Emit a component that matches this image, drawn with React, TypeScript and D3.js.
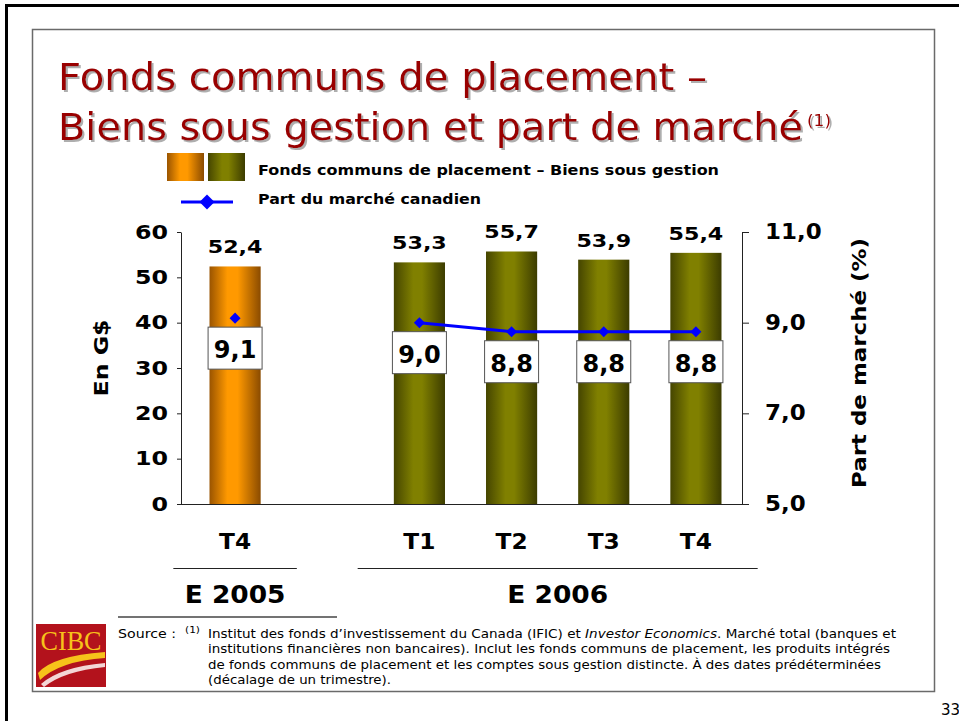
import React, { useEffect, useRef } from 'react';
import * as d3 from 'd3';

const quarters = ['T4', 'T1', 'T2', 'T3', 'T4'];
const years = ['E 2005', 'E 2006', 'E 2006', 'E 2006', 'E 2006'];
const assets = [52.4, 53.3, 55.7, 53.9, 55.4];
const marketShare = [9.1, 9.0, 8.8, 8.8, 8.8];
const assetTicks = [0, 10, 20, 30, 40, 50, 60];
const shareTicks = [5, 7, 9, 11];
const yearGroups = ['E 2005', 'E 2006'];

const titleLines = ['Fonds communs de placement –', 'Biens sous gestion et part de marché'];
const legendLabels = ['Fonds communs de placement – Biens sous gestion', 'Part du marché canadien'];
const footnoteLines = [
  'Institut des fonds d’investissement du Canada (IFIC) et Investor Economics. Marché total (banques et',
  'institutions financières non bancaires). Inclut les fonds communs de placement, les produits intégrés',
  'de fonds communs de placement et les comptes sous gestion distincte. À des dates prédéterminées',
  '(décalage de un trimestre).',
];
const italicPart = 'Investor Economics';

const W = 959;
const H = 721;
const FONT = '"DejaVu Sans", Verdana, sans-serif';

const App = () => {
  const ref = useRef(null);

  useEffect(() => {
    if (!ref.current) return;
    const svg = d3.select(ref.current);
    svg.selectAll('*').remove();

    const locale = d3.formatLocale({ decimal: ',', thousands: ' ', grouping: [3], currency: ['', ' $'] });
    const fmt = locale.format('.1f');

    const defs = svg.append('defs');
    const gradient = (id: string, stops: [number, string][]) => {
      const g = defs.append('linearGradient').attr('id', id)
        .attr('x1', 0).attr('x2', 1).attr('y1', 0).attr('y2', 0);
      stops.forEach(([o, c]) => g.append('stop').attr('offset', o).attr('stop-color', c));
    };
    gradient('orangeBar', [[0, '#9a5400'], [0.35, '#ff9900'], [0.55, '#ff9900'], [1, '#8a4b00']]);
    gradient('oliveBar', [[0, '#454500'], [0.38, '#808000'], [0.55, '#808000'], [1, '#3c3c00']]);
    const barFill = (y: string) => (y === 'E 2005' ? 'url(#orangeBar)' : 'url(#oliveBar)');

    // soft grey shadow behind the title
    defs.append('filter').attr('id', 'titleShadow')
      .attr('x', '-5%').attr('y', '-20%').attr('width', '110%').attr('height', '140%')
      .append('feDropShadow')
      .attr('dx', 2).attr('dy', 2).attr('stdDeviation', 0.6)
      .attr('flood-color', '#9a9a9a').attr('flood-opacity', 0.8);

    svg.append('rect').attr('width', W).attr('height', H).attr('fill', '#fff');

    // slide frames
    svg.append('path').attr('d', 'M6.5,721V5.5H959')
      .attr('fill', 'none').attr('stroke', '#000').attr('stroke-width', 3);
    svg.append('rect').attr('x', 32.5).attr('y', 29.5).attr('width', 902).attr('height', 662)
      .attr('fill', 'none').attr('stroke', '#6a6a6a').attr('stroke-width', 1.5);

    // title
    const titleY = [90, 140];
    const titleLen = [649, 745];
    const title = svg.append('g').attr('filter', 'url(#titleShadow)').attr('fill', '#990000');
    titleLines.forEach((t, i) => {
      title.append('text')
        .attr('x', 58).attr('y', titleY[i])
        .attr('font-family', FONT).attr('font-size', 37)
        .attr('textLength', titleLen[i]).attr('lengthAdjust', 'spacingAndGlyphs')
        .text(t);
    });
    title.append('text')
      .attr('x', 807).attr('y', 126)
      .attr('font-family', FONT).attr('font-size', 15)
      .attr('textLength', 24).attr('lengthAdjust', 'spacingAndGlyphs')
      .text('(1)');

    // legend
    svg.append('rect').attr('x', 167).attr('y', 153).attr('width', 37).attr('height', 28).attr('fill', 'url(#orangeBar)');
    svg.append('rect').attr('x', 208).attr('y', 153).attr('width', 37).attr('height', 28).attr('fill', 'url(#oliveBar)');
    svg.append('line').attr('x1', 181).attr('x2', 233).attr('y1', 202).attr('y2', 202)
      .attr('stroke', '#0000ff').attr('stroke-width', 3);
    svg.append('path').attr('d', d3.symbol(d3.symbolSquare, 112)())
      .attr('transform', 'translate(207,202) rotate(45)').attr('fill', '#0000ff');
    [175, 204].forEach((y, i) => {
      svg.append('text').attr('x', 258).attr('y', y)
        .attr('font-family', FONT).attr('font-size', 14.7).attr('font-weight', 'bold')
        .attr('textLength', [461, 223][i]).attr('lengthAdjust', 'spacingAndGlyphs')
        .text(legendLabels[i]);
    });

    // scales
    const ids = quarters.map((q, i) => `${years[i]} ${q}`);
    const slots = [ids[0], 'gap', ...ids.slice(1)];
    const x = d3.scaleBand().domain(slots).range([189, 742]).paddingInner(0.445).paddingOuter(0.2225);
    const yA = d3.scaleLinear().domain([0, 60]).range([504, 232]);
    const yS = d3.scaleLinear().domain([5, 11]).range([504, 232]);
    const cx = (i: number) => (x(ids[i]) as number) + x.bandwidth() / 2;

    // bars
    svg.append('g').selectAll('rect').data(assets).enter().append('rect')
      .attr('x', (d, i) => x(ids[i]) as number)
      .attr('width', x.bandwidth())
      .attr('y', d => yA(d))
      .attr('height', d => yA(0) - yA(d))
      .attr('fill', (d, i) => barFill(years[i]));

    // axes
    const gL = svg.append('g').attr('transform', 'translate(181,0)')
      .call(d3.axisLeft(yA).tickValues(assetTicks).tickSize(4).tickSizeOuter(0).tickPadding(9).tickFormat(d3.format('d')));
    gL.select('.domain').attr('stroke', '#222');
    gL.selectAll('line').attr('stroke', '#222');
    gL.selectAll('text').attr('font-family', FONT).attr('font-size', 19).attr('font-weight', 'bold')
      .attr('fill', '#000').attr('x', -13 / 1.25).attr('transform', 'scale(1.25,1)');

    const gR = svg.append('g').attr('transform', 'translate(742,0)')
      .call(d3.axisRight(yS).tickValues(shareTicks).tickSize(7).tickSizeOuter(0).tickPadding(16).tickFormat(d => fmt(d as number)));
    gR.select('.domain').attr('stroke', '#222');
    gR.selectAll('line').attr('stroke', '#222');
    gR.selectAll('text').attr('font-family', FONT).attr('font-size', 20.5).attr('font-weight', 'bold')
      .attr('fill', '#000').attr('x', 23 / 1.12).attr('transform', 'scale(1.12,1)');

    svg.append('line').attr('x1', 181).attr('x2', 742).attr('y1', yA(0) + 0.5).attr('y2', yA(0) + 0.5)
      .attr('stroke', '#222');

    // bar value labels
    svg.append('g').selectAll('text').data(assets).enter().append('text')
      .attr('transform', (d, i) => `translate(${cx(i)},${yA(d) - 13}) scale(1.2,1)`)
      .attr('text-anchor', 'middle')
      .attr('font-family', FONT).attr('font-size', 18.5).attr('font-weight', 'bold')
      .text(d => fmt(d));

    // market share line (2006 only) and markers
    const line = d3.line<number>().x((d, k) => cx(k + 1)).y(d => yS(d));
    svg.append('path').attr('d', line(marketShare.slice(1)))
      .attr('fill', 'none').attr('stroke', '#0000ff').attr('stroke-width', 3);
    svg.append('g').selectAll('path').data(marketShare).enter().append('path')
      .attr('d', d3.symbol(d3.symbolSquare, 61)())
      .attr('transform', (d, i) => `translate(${cx(i)},${yS(d)}) rotate(45)`)
      .attr('fill', '#0000ff');

    // share boxes
    const boxes = svg.append('g').selectAll('g').data(marketShare).enter().append('g')
      .attr('transform', (d, i) => `translate(${cx(i)},${yS(d) + 9})`);
    boxes.append('rect').attr('x', -27).attr('y', 0).attr('width', 54).attr('height', 42)
      .attr('fill', '#fff').attr('stroke', '#555').attr('stroke-width', 1);
    boxes.append('text').attr('y', 31).attr('text-anchor', 'middle')
      .attr('font-family', FONT).attr('font-size', 24).attr('font-weight', 'bold')
      .text(d => fmt(d));

    // category labels
    svg.append('g').selectAll('text').data(quarters).enter().append('text')
      .attr('transform', (d, i) => `translate(${cx(i)},549) scale(1.06,1)`)
      .attr('text-anchor', 'middle')
      .attr('font-family', FONT).attr('font-size', 22).attr('font-weight', 'bold')
      .text(d => d);

    // year groups
    yearGroups.forEach(yr => {
      const idx = years.map((y, i) => (y === yr ? i : -1)).filter(i => i >= 0);
      const x0 = cx(idx[0]) - x.step() * 0.67;
      const x1 = cx(idx[idx.length - 1]) + x.step() * 0.67;
      svg.append('line').attr('x1', x0).attr('x2', x1).attr('y1', 568.5).attr('y2', 568.5)
        .attr('stroke', '#222').attr('stroke-width', 1.2);
      svg.append('text')
        .attr('transform', `translate(${(x0 + x1) / 2},603) scale(1.08,1)`)
        .attr('text-anchor', 'middle')
        .attr('font-family', FONT).attr('font-size', 24.5).attr('font-weight', 'bold')
        .text(yr);
    });

    // axis titles
    svg.append('text').attr('transform', 'translate(108,358) rotate(-90)')
      .attr('text-anchor', 'middle').attr('font-family', FONT).attr('font-size', 19).attr('font-weight', 'bold')
      .attr('textLength', 77).attr('lengthAdjust', 'spacingAndGlyphs')
      .text('En G$');
    svg.append('text').attr('transform', 'translate(866,363) rotate(-90)')
      .attr('text-anchor', 'middle').attr('font-family', FONT).attr('font-size', 20).attr('font-weight', 'bold')
      .attr('textLength', 250).attr('lengthAdjust', 'spacingAndGlyphs')
      .text('Part de marché (%)');

    // footnote
    svg.append('line').attr('x1', 118).attr('x2', 337).attr('y1', 617).attr('y2', 617)
      .attr('stroke', '#444').attr('stroke-width', 1.5);
    svg.append('text').attr('x', 118).attr('y', 638)
      .attr('font-family', FONT).attr('font-size', 12.3)
      .attr('textLength', 58).attr('lengthAdjust', 'spacingAndGlyphs')
      .text('Source :');
    svg.append('text').attr('x', 185).attr('y', 633)
      .attr('font-family', FONT).attr('font-size', 9)
      .attr('textLength', 15).attr('lengthAdjust', 'spacingAndGlyphs')
      .text('(1)');
    const lineLen = [688, 682, 673, 183];
    footnoteLines.forEach((t, i) => {
      const txt = svg.append('text').attr('x', 208).attr('y', 638 + i * 15.3)
        .attr('font-family', FONT).attr('font-size', 12.3)
        .attr('textLength', lineLen[i]).attr('lengthAdjust', 'spacingAndGlyphs');
      const parts = t.split(italicPart);
      parts.forEach((p, k) => {
        txt.append('tspan').text(p);
        if (k < parts.length - 1) txt.append('tspan').attr('font-style', 'italic').text(italicPart);
      });
    });

    // logo
    const logo = svg.append('g');
    logo.append('rect').attr('x', 36).attr('y', 624).attr('width', 70).attr('height', 63).attr('fill', '#b3121c');
    logo.append('text').attr('x', 71).attr('y', 650).attr('text-anchor', 'middle')
      .attr('font-family', '"Liberation Serif", "DejaVu Serif", serif').attr('font-size', 27)
      .attr('fill', '#f7c21a').attr('textLength', 61).attr('lengthAdjust', 'spacingAndGlyphs')
      .text('CIBC');
    logo.append('path').attr('d', 'M38,673 Q52,656 105,652 L105,658 Q60,661 40,680 Z').attr('fill', '#f7c21a');
    logo.append('path').attr('d', 'M41,684 Q60,667 105,663 L105,667 Q64,671 44,687 Z').attr('fill', '#f3d6d6');

    // page number
    svg.append('text').attr('x', 941).attr('y', 715)
      .attr('font-family', FONT).attr('font-size', 15).text('33');
  }, []);

  return (
    <svg ref={ref} width={W} height={H} style={{ position: 'absolute', left: 0, top: 0 }} />
  );
};

export default App;
